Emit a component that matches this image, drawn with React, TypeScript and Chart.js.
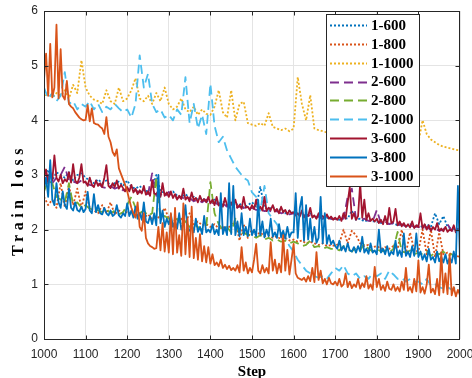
import { useEffect, useRef } from "react";
import { Chart, registerables } from "chart.js";
Chart.register(...registerables);

// x grids (regular step grids for the sampled training steps)
const stepsFine = Array.from({ length: 201 }, (_, i) => 1000 + i * 5);
const stepsCoarse = Array.from({ length: 101 }, (_, i) => 1000 + i * 10);

const xTicks = [1000, 1100, 1200, 1300, 1400, 1500, 1600, 1700, 1800, 1900, 2000];
const yTicks = [0, 1, 2, 3, 4, 5, 6];

const names = ["1-600", "1-800", "1-1000", "2-600", "2-800", "2-1000", "3-600", "3-800", "3-1000"];

// coarse (every 10 steps)
const s1_600 = [
  3.0, 3.1, 2.9, 3.05, 3.0, 2.95, 3.05, 2.9, 3.0, 3.03,
  2.95, 2.9, 2.85, 2.92, 2.85, 2.9, 2.8, 2.85, 2.88, 2.8,
  2.9, 2.78, 2.75, 2.8, 2.72, 2.7, 2.75, 3.0, 2.7, 2.68,
  2.65, 2.7, 2.62, 2.6, 2.65, 2.58, 2.6, 2.55, 2.58, 2.52,
  2.5, 2.55, 2.48, 2.52, 2.45, 2.5, 2.45, 2.48, 2.4, 2.45,
  2.5, 2.42, 2.78, 2.4, 2.38, 2.42, 2.35, 2.38, 2.3, 2.35,
  2.3, 2.32, 2.28, 2.25, 2.3, 2.22, 2.25, 2.2, 2.22, 2.2,
  2.2, 2.18, 2.22, 2.2, 2.35, 2.18, 2.2, 2.15, 2.18, 2.15,
  2.15, 2.12, 2.2, 2.1, 2.12, 2.08, 2.1, 2.06, 2.1, 2.05,
  2.08, 2.05, 2.1, 2.05, 2.3, 2.1, 2.25, 2.05, 2.02, 2.0,
  2.0,
];
const s1_800 = [
  2.6, 2.45, 2.55, 2.4, 2.85, 2.41, 2.8, 2.45, 2.75, 2.4,
  2.7, 2.4, 2.35, 2.3, 2.45, 2.3, 2.5, 2.28, 2.35, 2.3,
  2.32, 2.28, 2.25, 2.3, 2.22, 2.28, 2.2, 2.25, 2.2, 2.4,
  2.2, 2.18, 2.15, 2.2, 2.12, 2.3, 2.1, 2.15, 2.08, 2.1,
  2.05, 2.1, 2.02, 2.05, 2.0, 2.1, 2.17, 1.8, 2.1, 1.85,
  2.0, 1.9, 1.95, 1.88, 1.9, 1.85, 1.88, 1.82, 1.85, 1.8,
  1.82, 1.78, 1.8, 1.75, 1.78, 1.75, 1.72, 1.75, 1.7, 1.72,
  1.7, 1.75, 2.0, 1.75, 1.98, 1.9, 1.75, 1.7, 1.72, 1.68,
  1.7, 1.65, 1.68, 1.65, 1.7, 1.65, 2.0, 1.57, 1.95, 1.62,
  1.6, 2.0, 1.55, 2.0, 1.5, 1.95, 1.55, 1.58, 1.55, 1.52,
  1.5,
];
const s1_1000 = [
  4.45, 4.5, 4.42, 4.5, 4.45, 4.55, 4.4, 4.65, 4.5, 5.1,
  4.6, 4.45, 4.38, 4.35, 4.3, 4.55, 4.35, 4.3, 4.6, 4.35,
  4.4, 4.55, 4.77, 4.4, 4.35, 4.45, 4.3, 4.5, 4.35, 4.6,
  4.3, 4.2, 4.25, 4.4, 4.2, 4.15, 4.25, 4.1, 4.2, 4.12,
  4.1, 4.25, 4.55, 4.15, 4.05, 4.55, 4.0, 4.3, 4.34, 3.95,
  3.92, 3.9, 3.95, 3.9, 4.13, 3.88, 3.85, 3.82, 3.85, 3.8,
  3.85, 4.79, 4.3, 4.0, 4.46, 3.85, 3.82, 3.8, 3.78, 3.78,
  3.76, 3.75, 3.74, 3.8, 3.72, 3.72, 3.7, 3.72, 3.68, 3.7,
  3.68, 3.66, 3.65, 3.7, 3.64, 3.62, 3.62, 3.6, 3.6, 3.58,
  3.6, 4.0, 3.75, 3.65, 3.6, 3.55, 3.52, 3.5, 3.48, 3.46,
  3.45,
];
const s2_600 = [
  2.9, 3.0, 2.85, 2.95, 3.0, 3.15, 2.9, 2.88, 2.85, 2.9,
  2.85, 2.82, 2.8, 2.85, 2.78, 2.76, 2.8, 2.75, 2.78, 2.72,
  2.75, 2.7, 2.72, 2.68, 2.7, 2.65, 3.03, 2.62, 2.65, 2.6,
  2.69, 2.6, 2.58, 2.6, 2.55, 2.58, 2.52, 2.55, 2.5, 2.55,
  2.48, 2.5, 2.45, 2.48, 2.42, 2.45, 2.4, 2.42, 2.4, 2.38,
  2.4, 2.36, 2.38, 2.34, 2.35, 2.32, 2.34, 2.3, 2.32, 2.28,
  2.3, 2.26, 2.28, 2.25, 2.26, 2.22, 2.24, 2.2, 2.22, 2.2,
  2.2, 2.18, 2.2, 2.6, 2.75, 2.2, 2.18, 2.2, 2.16, 2.15,
  2.36, 2.12, 2.15, 2.1, 2.12, 2.08, 2.1, 2.06, 2.08, 2.05,
  2.05, 2.02, 2.05, 2.0, 2.02, 1.98, 2.0, 2.1, 1.98, 2.0,
  1.98,
];
const s2_800 = [
  2.7, 2.9, 2.85, 2.6, 2.55, 2.5, 2.85, 2.45, 2.5, 2.4,
  2.45, 2.38, 2.4, 2.35, 2.32, 2.38, 2.3, 2.35, 2.28, 2.32,
  2.45, 2.6, 2.4, 2.3, 2.35, 2.25, 2.3, 2.96, 2.2, 2.25,
  2.2, 2.15, 2.2, 2.1, 2.15, 2.05, 2.1, 2.05, 2.0, 2.05,
  2.87, 2.3, 2.1, 2.0, 2.05, 1.95, 2.2, 1.9, 1.95, 1.9,
  1.9, 1.85, 1.9, 1.82, 1.85, 1.8, 1.82, 1.78, 1.8, 1.75,
  1.78, 1.75, 1.7, 1.72, 1.8, 1.68, 1.7, 1.65, 1.68, 1.65,
  1.65, 1.62, 1.7, 1.65, 1.6, 1.68, 1.62, 1.75, 1.65, 1.6,
  1.65, 1.6, 1.62, 1.58, 1.65, 1.96, 1.6, 1.58, 1.62, 1.55,
  1.58, 1.55, 1.6, 1.52, 1.58, 1.55, 1.6, 1.52, 1.55, 1.5,
  1.52,
];
const s2_1000 = [
  4.6, 4.4, 4.5, 4.35, 4.45, 4.88, 4.3, 4.35, 4.2, 4.3,
  4.25, 4.35, 4.2, 4.3, 4.15, 4.25, 4.2, 4.3, 4.22, 4.15,
  4.2, 4.05, 4.3, 5.19, 4.6, 4.85, 4.3, 4.15, 4.2, 4.05,
  4.1, 4.0, 4.2, 4.1, 4.79, 3.95, 4.3, 3.85, 4.1, 3.75,
  4.67, 3.9, 3.6, 3.7, 3.45, 3.3, 3.15, 3.05, 2.95, 2.9,
  2.68, 2.6, 2.35, 2.8, 2.3, 2.2, 2.1, 1.95, 1.85, 1.7,
  1.6, 1.45, 1.35, 1.25, 1.2, 1.15, 1.12, 1.15, 1.1, 1.2,
  1.3, 1.25, 1.35, 1.2, 1.15, 1.2, 1.1, 1.15, 1.1, 1.2,
  1.15, 1.2, 1.1, 1.25, 1.18, 1.1, 1.12, 1.05, 1.1, 1.05,
  1.05, 1.0, 1.1, 0.98, 1.0, 0.95, 0.92, 0.95, 0.9, 0.95,
  0.92,
];

// fine (every 5 steps)
const s3_600 = [
  2.95, 3.1, 2.85, 3.05, 2.9, 3.36, 2.95, 2.88, 3.0, 2.85, 2.92, 2.88, 3.05, 2.86, 3.2, 2.9, 2.85, 2.95, 3.2, 2.86,
  2.88, 2.8, 2.95, 2.82, 2.78, 2.9, 2.8, 2.85, 2.78, 2.95, 3.18, 2.8, 2.76, 2.85, 2.78, 2.9, 2.75, 2.82, 2.76, 2.7,
  2.78, 2.7, 2.82, 2.68, 2.75, 2.65, 2.72, 2.66, 2.8, 2.64, 2.7, 2.62, 2.9, 2.66, 2.65, 2.72, 2.6, 2.85, 2.62, 2.68,
  2.6, 2.7, 2.58, 2.65, 2.55, 2.62, 2.56, 2.75, 2.55, 2.6, 2.52, 2.68, 2.54, 2.58, 2.5, 2.62, 2.52, 2.56, 2.5, 2.6,
  2.48, 2.55, 2.45, 2.6, 2.44, 2.5, 2.42, 2.58, 2.45, 2.4, 2.5, 2.42, 2.55, 2.4, 2.45, 2.38, 2.6, 2.4, 2.42, 2.36,
  2.45, 2.38, 2.55, 2.36, 2.42, 2.35, 2.6, 2.34, 2.4, 2.36, 2.45, 2.33, 2.38, 2.3, 2.42, 2.32, 2.36, 2.28, 2.35, 2.3,
  2.32, 2.26, 2.3, 2.24, 2.35, 2.22, 2.28, 2.25, 2.4, 2.22, 2.26, 2.2, 2.3, 2.22, 2.25, 2.2, 2.28, 2.2, 2.24, 2.18,
  2.22, 2.18, 2.25, 2.16, 2.3, 2.2, 2.5, 2.78, 2.2, 2.3, 2.18, 2.25, 2.85, 2.22, 2.55, 2.18, 2.3, 2.16, 2.2, 2.15,
  2.2, 2.12, 2.18, 2.1, 2.25, 2.1, 2.4, 2.12, 2.15, 2.38, 2.08, 2.15, 2.06, 2.12, 2.05, 2.1, 2.04, 2.15, 2.03, 2.08,
  2.05, 2.3, 2.02, 2.1, 2.0, 2.08, 1.98, 2.05, 2.0, 2.12, 1.98, 2.02, 1.97, 2.05, 1.96, 2.0, 1.98, 2.08, 1.95, 2.02,
  2.0,
];
const s3_800 = [
  2.75, 2.95, 2.6, 3.27, 2.55, 2.45, 2.85, 2.5, 2.4, 2.7, 2.45, 2.38, 2.75, 2.4, 2.35, 2.5, 2.36, 2.33, 2.42, 2.32,
  2.38, 2.69, 2.35, 2.3, 2.65, 2.32, 2.45, 2.3, 2.28, 2.4, 2.3, 2.26, 2.35, 2.25, 2.28, 2.45, 2.26, 2.22, 2.3, 2.25,
  2.48, 2.25, 2.35, 2.22, 2.42, 2.2, 2.3, 2.18, 2.5, 2.15, 2.12, 2.25, 2.1, 2.3, 2.08, 3.0, 2.12, 2.35, 2.05, 2.2,
  2.1, 2.28, 2.05, 2.15, 2.02, 2.3, 2.0, 2.12, 2.45, 2.0, 1.98, 2.1, 1.95, 2.2, 1.96, 2.05, 1.92, 2.25, 1.95, 2.0,
  1.95, 2.1, 1.92, 2.0, 1.9, 2.67, 1.92, 2.05, 1.9, 2.85, 1.92, 2.8, 1.9, 2.15, 1.88, 2.3, 1.9, 2.05, 1.88, 2.2,
  1.9, 2.0, 1.88, 2.54, 1.9, 2.15, 1.86, 2.0, 1.88, 2.2, 1.87, 1.95, 1.85, 2.1, 1.86, 1.98, 1.84, 2.05, 1.86, 1.95,
  1.95, 2.67, 1.85, 2.4, 2.6, 1.8, 2.45, 1.82, 2.2, 1.78, 2.05, 1.76, 1.85, 2.6, 1.75, 2.3, 1.74, 1.9, 1.73, 1.8,
  1.7, 1.65, 1.8, 1.62, 1.7, 1.6, 1.75, 1.62, 1.6, 1.68, 1.58, 1.7, 1.6, 1.87, 1.58, 1.65, 1.56, 1.75, 1.58, 1.62,
  1.55, 2.0, 1.58, 1.65, 1.55, 1.7, 1.52, 1.6, 1.55, 1.8, 1.52, 1.62, 1.5, 1.93, 1.52, 1.6, 1.5, 1.7, 1.52, 1.93,
  1.5, 1.6, 1.45, 1.55, 1.42, 1.65, 1.45, 1.5, 1.4, 1.6, 1.42, 1.5, 1.4, 1.55, 1.38, 1.48, 1.4, 1.6, 1.38, 2.8,
  1.4,
];
const s3_1000 = [
  4.75, 5.22, 4.45, 5.4, 4.42, 4.6, 5.75, 4.4, 5.3, 4.45, 4.38, 4.72, 4.3, 4.25, 4.22, 4.15, 4.1, 4.05, 4.02, 4.0,
  4.01, 4.28, 3.98, 4.22, 3.95, 3.93, 3.92, 3.88, 3.85, 3.75, 4.06, 3.7, 3.6, 3.42, 3.35, 3.47, 3.12, 3.02, 2.92, 2.82,
  2.7, 2.55, 2.4, 2.3, 2.22, 2.5, 2.05, 1.98, 2.3, 1.85, 1.75, 1.7, 1.68, 1.65, 1.66, 2.05, 1.62, 2.12, 1.6, 1.95,
  1.58, 2.3, 1.55, 2.4, 1.58, 1.9, 1.52, 2.48, 1.55, 2.2, 1.5, 2.42, 1.48, 1.85, 1.45, 1.92, 1.42, 1.7, 1.4, 1.68,
  1.38, 1.55, 1.35, 1.4, 1.33, 1.45, 1.3, 1.36, 1.28, 1.34, 1.26, 1.3, 1.25, 1.35, 1.22, 1.68, 1.25, 1.4, 1.2, 1.3,
  1.22, 1.45, 1.74, 1.25, 1.2, 1.35, 1.22, 1.3, 1.2, 1.77, 1.25, 1.45, 1.2, 1.38, 1.22, 1.9, 1.25, 1.63, 1.18, 1.45,
  1.74, 1.2, 1.12, 1.1, 1.08, 1.12, 1.05, 1.15, 1.06, 1.3, 1.04, 1.59, 1.08, 1.25, 1.02, 1.1, 1.0, 1.12, 1.02, 1.0,
  1.05, 0.98, 1.1, 0.96, 1.0, 1.2, 0.95, 1.05, 0.93, 1.0, 0.95, 1.1, 0.92, 1.02, 0.95, 1.15, 0.92, 1.0, 0.9, 1.32,
  0.95, 1.1, 0.9, 0.98, 0.88, 1.05, 0.92, 0.9, 1.0, 0.88, 0.95, 0.87, 1.05, 0.9, 1.3, 0.88, 0.95, 0.85, 1.1, 0.87,
  1.44, 0.85, 0.95, 0.83, 1.0, 1.36, 0.85, 0.92, 0.82, 1.1, 0.8, 1.59, 0.85, 1.2, 0.82, 1.55, 0.8, 0.95, 0.78, 0.9,
  0.8,
];

const colors = ["#0072BD", "#D95319", "#EDB120", "#7E2F8E", "#77AC30", "#4DBEEE", "#A2142F", "#0072BD", "#D95319"];
const DOT = [2, 2];
const DASH = [9, 5];
const dashes = [DOT, DOT, DOT, DASH, DASH, DASH, [], [], []];

const seriesValues = [s1_600, s1_800, s1_1000, s2_600, s2_800, s2_1000, s3_600, s3_800, s3_1000];
const seriesSteps = [stepsCoarse, stepsCoarse, stepsCoarse, stepsCoarse, stepsCoarse, stepsCoarse, stepsFine, stepsFine, stepsFine];

const AXIS = "#262626";

const decorPlugin = {
  id: "decor",
  afterDraw(chart: any) {
    const { ctx, chartArea: a, scales } = chart;
    const xs = scales.x, ys = scales.y;
    ctx.save();
    // box
    ctx.strokeStyle = AXIS;
    ctx.lineWidth = 1;
    ctx.setLineDash([]);
    const L = Math.round(a.left) + 0.5, R = Math.round(a.right) - 0.5;
    const T = Math.round(a.top) + 0.5, B = Math.round(a.bottom) + 0.5;
    ctx.strokeRect(L, T, R - L, B - T);
    // inward ticks
    ctx.beginPath();
    const tl = 4;
    xTicks.forEach((t) => {
      const px = Math.min(Math.round(xs.getPixelForValue(t)) + 0.5, R);
      ctx.moveTo(px, B);
      ctx.lineTo(px, B - tl);
      ctx.moveTo(px, T);
      ctx.lineTo(px, T + tl);
    });
    yTicks.forEach((t) => {
      const py = Math.round(ys.getPixelForValue(t)) + 0.5;
      ctx.moveTo(L, py);
      ctx.lineTo(L + tl, py);
      ctx.moveTo(R, py);
      ctx.lineTo(R - tl, py);
    });
    ctx.stroke();

    // axis titles
    ctx.fillStyle = "#000";
    ctx.font = "bold 15px 'Liberation Serif'";
    ctx.textAlign = "center";
    ctx.textBaseline = "alphabetic";
    ctx.fillText("Step", (a.left + a.right) / 2, 376);
    ctx.save();
    ctx.translate(23, 200);
    ctx.rotate(-Math.PI / 2);
    ctx.font = "bold 16px 'Liberation Serif'";
    (ctx as any).letterSpacing = "4.5px";
    ctx.fillText("Train loss", 0, 0);
    ctx.restore();

    // legend
    const lx = 326.5, ly = 14.5, lw = 93, lh = 172;
    ctx.fillStyle = "#fff";
    ctx.fillRect(lx, ly, lw, lh);
    ctx.strokeStyle = AXIS;
    ctx.lineWidth = 1;
    ctx.strokeRect(lx, ly, lw, lh);
    ctx.font = "bold 15px 'Liberation Serif'";
    ctx.textAlign = "left";
    ctx.textBaseline = "middle";
    names.forEach((n, i) => {
      const cy = 25 + i * 18.85;
      ctx.beginPath();
      ctx.strokeStyle = colors[i];
      ctx.lineWidth = 2;
      ctx.setLineDash(dashes[i]);
      ctx.moveTo(330, Math.round(cy) + 0.5);
      ctx.lineTo(367, Math.round(cy) + 0.5);
      ctx.stroke();
      ctx.setLineDash([]);
      ctx.fillStyle = "#000";
      ctx.fillText(n, 371, cy + 1);
    });
    ctx.restore();
  },
};

export default function App() {
  const ref = useRef<HTMLCanvasElement | null>(null);
  useEffect(() => {
    if (!ref.current) return;
    const datasets = names.map((n, i) => ({
      label: n,
      data: seriesSteps[i].map((x, j) => ({ x, y: seriesValues[i][j] })),
      borderColor: colors[i],
      backgroundColor: colors[i],
      borderWidth: 1.8,
      borderDash: dashes[i],
      borderJoinStyle: "round" as const,
      pointRadius: 0,
      tension: 0,
      fill: false,
      order: 9 - i,
    }));
    const chart = new Chart(ref.current, {
      type: "line",
      data: { datasets },
      plugins: [decorPlugin],
      options: {
        animation: false,
        responsive: false,
        parsing: false as any,
        layout: { padding: { top: 11, right: 12, left: 0, bottom: 0 } },
        plugins: { legend: { display: false }, tooltip: { enabled: false }, title: { display: false } },
        scales: {
          x: {
            type: "linear",
            min: 1000,
            max: 2000,
            afterFit: (s: any) => { s.height = 39; s.paddingLeft = 0; s.paddingRight = 0; },
            afterBuildTicks: (s: any) => { s.ticks = xTicks.map((v) => ({ value: v })); },
            ticks: {
              callback: (v: any) => String(v),
              font: { family: "'Liberation Sans'", size: 12 },
              color: AXIS,
              padding: 8,
              maxRotation: 0,
              autoSkip: false,
            },
            grid: { color: "#e4e4e4", drawTicks: false, lineWidth: 1 },
            border: { display: false },
          },
          y: {
            type: "linear",
            min: 0,
            max: 6,
            afterFit: (s: any) => { s.width = 44; s.paddingTop = 0; s.paddingBottom = 0; },
            afterBuildTicks: (s: any) => { s.ticks = yTicks.map((v) => ({ value: v })); },
            ticks: {
              callback: (v: any) => String(v),
              font: { family: "'Liberation Sans'", size: 12 },
              color: AXIS,
              padding: 6,
            },
            grid: { color: "#e4e4e4", drawTicks: false, lineWidth: 1 },
            border: { display: false },
          },
        },
      },
    });
    return () => chart.destroy();
  }, []);
  return (
    <div style={{ position: "absolute", left: 0, top: 0, width: 472, height: 378, background: "#fff" }}>
      <canvas ref={ref} width={472} height={378} style={{ display: "block" }} />
    </div>
  );
}
